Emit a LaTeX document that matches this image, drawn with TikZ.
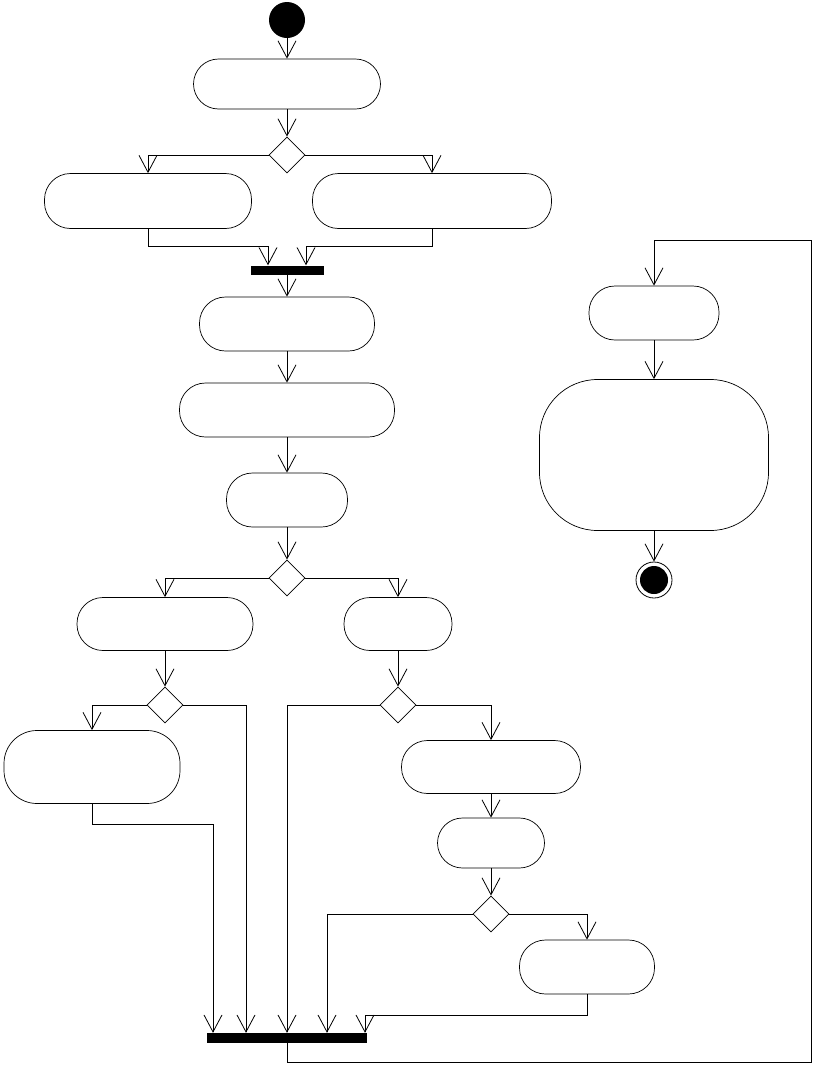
\documentclass[tikz,border=0pt]{standalone}
\usetikzlibrary{arrows.meta,shapes.geometric}
\tikzset{
  activity/.style={draw, rectangle, rounded corners=26pt, inner sep=0pt, line width=.7pt},
  choice/.style={draw, diamond, minimum width=36pt, minimum height=36pt, inner sep=0pt, line width=.8pt},
  syncbar/.style={fill=black, rectangle, inner sep=0pt, minimum height=9pt},
  flow/.style={-{Straight Barb[length=17pt,width=18pt]}, line width=.8pt},
  line/.style={line width=.8pt}
}
\begin{document}
\begin{tikzpicture}[x=1pt,y=-1pt]
\useasboundingbox (0,0) rectangle (829,1074);
\node[circle, fill=black, minimum size=36pt, inner sep=0pt] (start) at (287,20) {};
\node[activity, minimum width=187pt, minimum height=50pt, rounded corners=25pt] (a1) at (287,84) {};
\node[choice] (d1) at (287,155) {};
\node[activity, minimum width=207pt, minimum height=55pt] (a2) at (148,201) {};
\node[activity, minimum width=239pt, minimum height=55pt] (a3) at (432,201) {};
\node[syncbar, minimum width=73pt] (fork) at (287,270) {};
\node[activity, minimum width=175pt, minimum height=54pt] (a4) at (287,324) {};
\node[activity, minimum width=215pt, minimum height=54pt] (a5) at (287,410) {};
\node[activity, minimum width=121pt, minimum height=54pt] (a6) at (287,500) {};
\node[choice] (d2) at (287,578) {};
\node[activity, minimum width=176pt, minimum height=53pt] (a7) at (165,624) {};
\node[activity, minimum width=108pt, minimum height=53pt] (a8) at (398,624) {};
\node[choice] (d3) at (165,705) {};
\node[choice] (d4) at (398,705) {};
\node[activity, minimum width=176pt, minimum height=73pt, rounded corners=33pt] (a9) at (92,767) {};
\node[activity, minimum width=179pt, minimum height=53pt] (a10) at (491,767) {};
\node[activity, minimum width=107pt, minimum height=50pt, rounded corners=25pt] (a11) at (491,843) {};
\node[choice] (d5) at (491,914) {};
\node[activity, minimum width=135pt, minimum height=54pt] (a12) at (587,967) {};
\node[syncbar, minimum width=160pt, minimum height=10pt] (join) at (287,1038) {};
\node[activity, minimum width=130pt, minimum height=54pt] (a13) at (654,313) {};
\node[activity, minimum width=229pt, minimum height=151pt, rounded corners=58pt] (a14) at (654,455) {};
\node[circle, draw, minimum size=36pt, inner sep=0pt, line width=.8pt] (stop) at (654,580) {};
\fill (stop.center) circle (14pt);
\coordinate (loopturn) at (811,240);

\draw[flow] (start) -- (a1);
\draw[flow] (a1) -- (d1);
\draw[flow] (d1.west) -| (a2.north);
\draw[flow] (d1.east) -| (a3.north);
\draw[flow] (a2.south) -- ++(0,18) -| ([xshift=-19pt]fork.north);
\draw[flow] (a3.south) -- ++(0,18) -| ([xshift=19pt]fork.north);
\draw[flow] (fork) -- (a4);
\draw[flow] (a4) -- (a5);
\draw[flow] (a5) -- (a6);
\draw[flow] (a6) -- (d2);
\draw[flow] (d2.west) -| (a7.north);
\draw[flow] (d2.east) -| (a8.north);
\draw[flow] (a7) -- (d3);
\draw[flow] (a8) -- (d4);
\draw[flow] (d3.west) -| (a9.north);
\draw[flow] (d3.east) -| ([xshift=-41pt]join.north);
\draw[flow] (a9.south) -- ++(0,21) -| ([xshift=-74pt]join.north);
\draw[flow] (d4.west) -| (join.north);
\draw[flow] (d4.east) -| (a10.north);
\draw[flow] (a10) -- (a11);
\draw[flow] (a11) -- (d5);
\draw[flow] (d5.west) -| ([xshift=40pt]join.north);
\draw[flow] (d5.east) -| (a12.north);
\draw[flow] (a12.south) -- ++(0,21) -| ([xshift=78pt]join.north);
\draw[flow] (join.south) -- ++(0,19) -| (loopturn) -| (a13.north);
\draw[flow] (a13) -- (a14);
\draw[flow] (a14) -- (stop);
\end{tikzpicture}
\end{document}
